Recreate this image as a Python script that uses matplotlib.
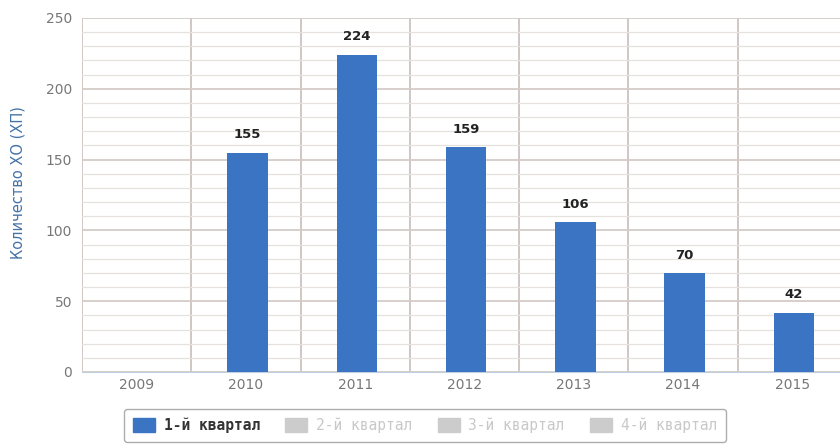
import matplotlib.pyplot as plt
import matplotlib.patches as mpatches
import numpy as np

years = ['2009', '2010', '2011', '2012', '2013', '2014', '2015']
q1 = [0, 155, 224, 159, 106, 70, 42]
series_names = ['1-й квартал', '2-й квартал', '3-й квартал', '4-й квартал']

fig = plt.figure(figsize=(8.4, 4.44), dpi=100)
ax = fig.add_axes([0.0976, 0.1622, 0.9107, 0.7973])

x = np.arange(len(years))
bars = ax.bar(x + 0.015, q1, width=0.37, color='#3a74c2', zorder=3)

# подписи значений над столбцами
for xi, v in zip(x, q1):
    if v > 0:
        ax.text(xi + 0.015, v + 8, str(v), ha='center', va='bottom',
                fontsize=9.5, fontweight='bold', color='#222222')

ax.set_xlim(-0.5, len(years) - 0.5)
ax.set_ylim(0, 250)
ax.set_xticks(x)
ax.set_xticklabels(years)
ax.set_yticks(np.arange(0, 251, 50))
ax.set_yticks(np.arange(0, 251, 10), minor=True)
ax.set_xticks(np.arange(-0.5, len(years), 1), minor=True)

ax.grid(axis='y', which='major', color='#d4cbc7', linewidth=1.3, zorder=0)
ax.grid(axis='y', which='minor', color='#e6e1df', linewidth=0.9, zorder=0)
ax.grid(axis='x', which='minor', color='#c4b8b4', linewidth=1.1, zorder=0)
ax.grid(axis='x', which='major', visible=False)

for s in ['top', 'right', 'left']:
    ax.spines[s].set_visible(False)
ax.spines['bottom'].set_color('#c0d0e0')

ax.tick_params(axis='both', which='both', length=0, labelsize=10,
               labelcolor='#777777')
ax.tick_params(axis='x', pad=4)
ax.tick_params(axis='y', pad=7)

ax.set_ylabel('Количество ХО (ХП)', fontsize=10.5, color='#4572a7')
ax.yaxis.set_label_coords(-0.074, 0.535)

handles = [mpatches.Patch(color='#3a74c2')] + \
          [mpatches.Patch(color='#cccccc') for _ in range(3)]
leg = fig.legend(handles, series_names, loc='upper center',
                 bbox_to_anchor=(0.506, 0.095), ncol=4,
                 prop={'family': 'DejaVu Sans Mono', 'size': 10.5},
                 frameon=True, fancybox=True, edgecolor='#999999',
                 handlelength=1.5, handleheight=1.1, borderpad=0.6,
                 columnspacing=1.75, handletextpad=0.6)
texts = leg.get_texts()
texts[0].set_fontweight('bold')
texts[0].set_color('#333333')
for t in texts[1:]:
    t.set_color('#c8c8c8')

fig.savefig('out.png', dpi=100)
